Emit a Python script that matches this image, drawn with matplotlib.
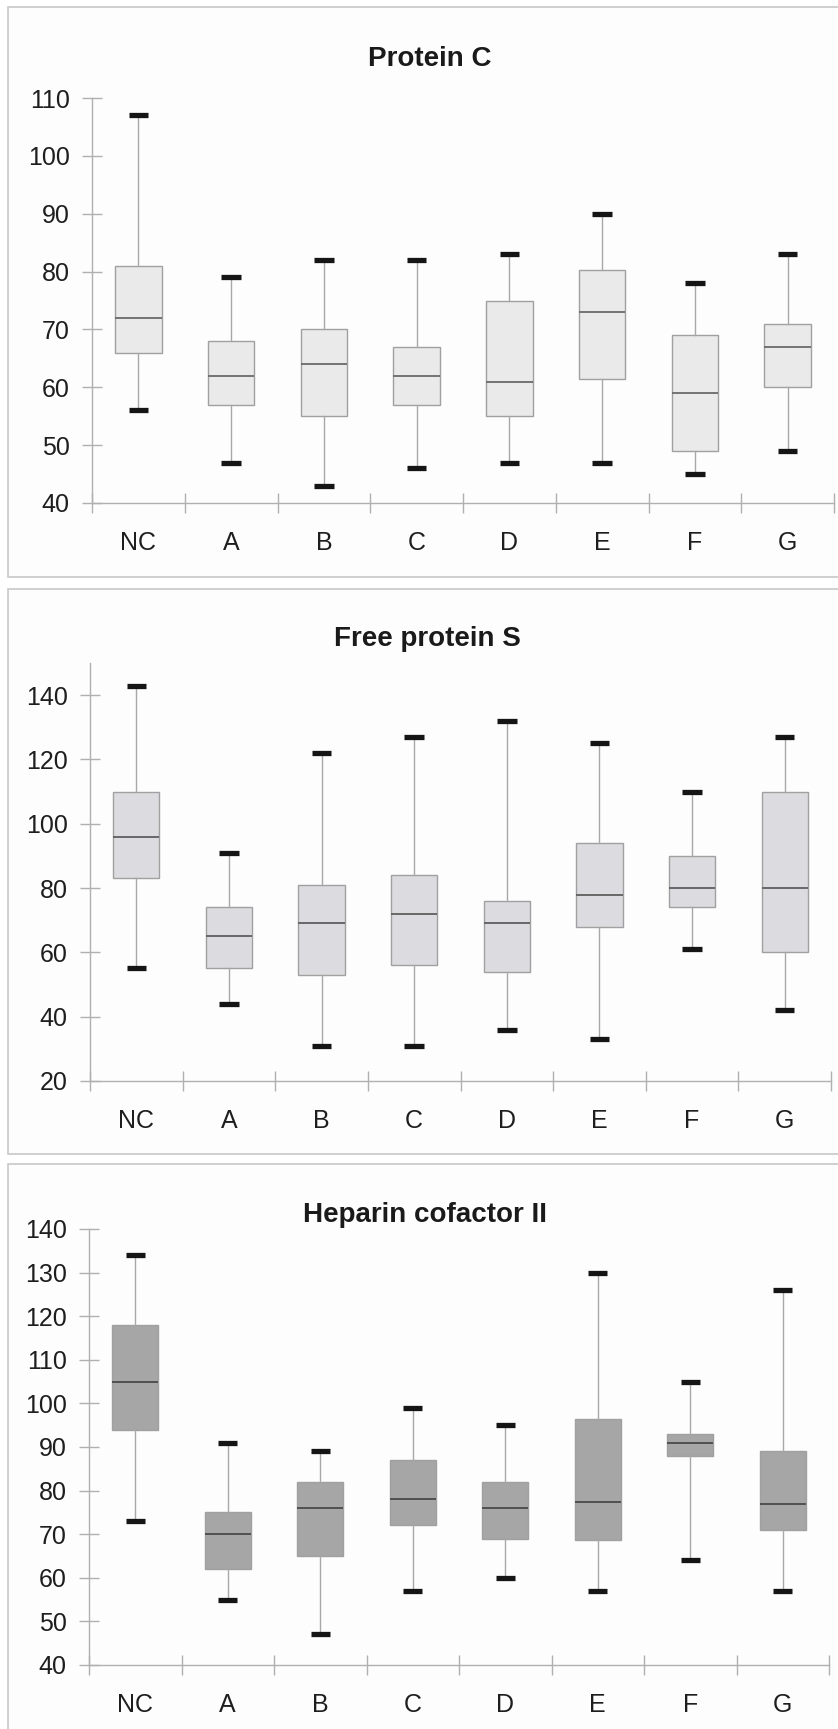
import matplotlib
matplotlib.use("Agg")
import matplotlib.pyplot as plt
from matplotlib.patches import Rectangle

plt.rcParams['font.family'] = ['Liberation Sans', 'DejaVu Sans']

groups = ['NC', 'A', 'B', 'C', 'D', 'E', 'F', 'G']

# Protein C: whisker low, Q1, median, Q3, whisker high
pc_low = [56, 47, 43, 46, 47, 47, 45, 49]
pc_q1 = [66, 57, 55, 57, 55, 61.5, 49, 60]
pc_med = [72, 62, 64, 62, 61, 73, 59, 67]
pc_q3 = [81, 68, 70, 67, 75, 80.3, 69, 71]
pc_high = [107, 79, 82, 82, 83, 90, 78, 83]

# Free protein S
ps_low = [55, 44, 31, 31, 36, 33, 61, 42]
ps_q1 = [83, 55, 53, 56, 54, 68, 74, 60]
ps_med = [96, 65, 69, 72, 69, 78, 80, 80]
ps_q3 = [110, 74, 81, 84, 76, 94, 90, 110]
ps_high = [143, 91, 122, 127, 132, 125, 110, 127]

# Heparin cofactor II
hc_low = [73, 55, 47, 57, 60, 57, 64, 57]
hc_q1 = [94, 62, 65, 72, 69, 68.6, 88, 71]
hc_med = [105, 70, 76, 78, 76, 77.5, 91, 77]
hc_q3 = [118, 75, 82, 87, 82, 96.5, 93, 89]
hc_high = [134, 91, 89, 99, 95, 130, 105, 126]

W, H = 838, 1729
fig = plt.figure(figsize=(W / 100, H / 100), dpi=100)
fig.patch.set_facecolor('white')

# panel frames (pixels: top, bottom)
for top, bottom in [(7, 577), (589, 1154), (1164, 1740)]:
    fig.patches.append(Rectangle((8 / W, 1 - bottom / H), 900 / W, (bottom - top) / H,
                                 transform=fig.transFigure, facecolor='#fdfdfd',
                                 edgecolor='#c8c8c8', linewidth=1.2, zorder=-5))

panels = [
    dict(title='Protein C', stats=(pc_low, pc_q1, pc_med, pc_q3, pc_high),
         box=(92, 834, 98, 503), ylim=(40, 110), ticks=range(40, 111, 10),
         fill='#eaeaea', med='#6a6a6a', ttl=(430, 59)),
    dict(title='Free protein S', stats=(ps_low, ps_q1, ps_med, ps_q3, ps_high),
         box=(90, 831, 663, 1081), ylim=(20, 150), ticks=range(20, 141, 20),
         fill='#dcdce0', med='#5e5e5e', ttl=(427, 639)),
    dict(title='Heparin cofactor II', stats=(hc_low, hc_q1, hc_med, hc_q3, hc_high),
         box=(89, 829, 1229, 1665), ylim=(40, 140), ticks=range(40, 141, 10),
         fill='#a6a6a6', med='#4a4a4a', ttl=(425, 1215)),
]

for p in panels:
    x0, x1, y0, y1 = p['box']
    ax = fig.add_axes([x0 / W, 1 - y1 / H, (x1 - x0) / W, (y1 - y0) / H])
    ax.set_facecolor('none')
    low, q1, med, q3, high = p['stats']
    bstats = [dict(whislo=low[i], q1=q1[i], med=med[i], q3=q3[i], whishi=high[i], label=g)
              for i, g in enumerate(groups)]
    ax.bxp(bstats, positions=range(1, 9), widths=0.5, capwidths=0.21,
           showfliers=False, patch_artist=True,
           boxprops=dict(facecolor=p['fill'], edgecolor='#a0a0a0', linewidth=1),
           medianprops=dict(color=p['med'], linewidth=1.3),
           whiskerprops=dict(color='#a8a8a8', linewidth=1),
           capprops=dict(color='#151515', linewidth=3.8, solid_capstyle='butt'))
    ax.set_xlim(0.5, 8.5)
    ax.set_ylim(*p['ylim'])
    ax.set_yticks(list(p['ticks']))
    ax.set_xticks(range(1, 9))
    ax.set_xticklabels(groups)
    ax.set_xticks([i + 0.5 for i in range(0, 9)], minor=True)
    for s in ['top', 'right']:
        ax.spines[s].set_visible(False)
    for s in ['left', 'bottom']:
        ax.spines[s].set_color('#b0b0b0')
        ax.spines[s].set_linewidth(1)
    ax.tick_params(axis='x', which='major', length=0, pad=20, labelsize=18, labelcolor='#1e1e1e')
    ax.tick_params(axis='x', which='minor', direction='inout', length=14, color='#b0b0b0', width=1)
    ax.tick_params(axis='y', direction='inout', length=14, color='#b0b0b0', width=1,
                   pad=9, labelsize=18, labelcolor='#1e1e1e')
    fig.text(p['ttl'][0] / W, 1 - p['ttl'][1] / H, p['title'], ha='center', va='center',
             fontsize=20, fontweight='bold', color='#1a1a1a')

fig.savefig('out.png', dpi=100)
